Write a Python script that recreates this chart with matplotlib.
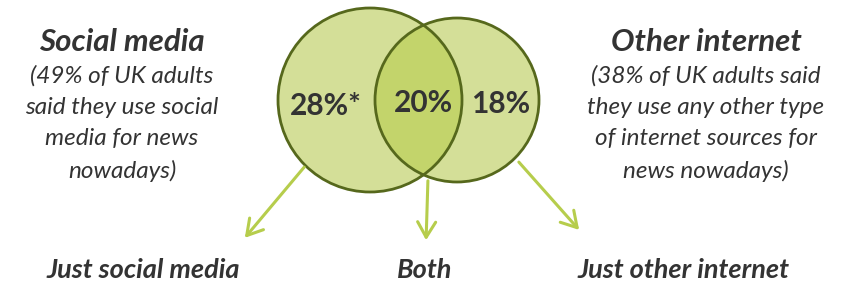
import matplotlib.pyplot as plt
from matplotlib.patches import Circle

# values shown in the diagram
region_labels = ["28%*", "20%", "18%"]
group_names = ["Social media", "Other internet"]
group_notes = ["(49% of UK adults\nsaid they use social\nmedia for news\nnowadays)",
               "(38% of UK adults said\nthey use any other type\nof internet sources for\nnews nowadays)"]
bottom_labels = ["Just social media", "Both", "Just other internet"]

light = "#d4df98"
mid = "#c3d46b"
edge = "#56681c"
arrow_col = "#b6cd4c"
txt = "#333333"
font = "Lato"

fig = plt.figure(figsize=(8.5, 2.86), dpi=100)
ax = fig.add_axes([0, 0, 1, 1])
ax.set_xlim(0, 850)
ax.set_ylim(286, 0)
ax.set_aspect("equal")
ax.axis("off")

# circles
c1 = Circle((370, 100), 92, facecolor=light, edgecolor="none", zorder=1)
c2 = Circle((457, 100), 82, facecolor=light, edgecolor="none", zorder=1)
ax.add_patch(c1)
ax.add_patch(c2)
# overlap region: second circle clipped to first
c2b = Circle((457, 100), 82, facecolor=mid, edgecolor="none", zorder=2)
ax.add_patch(c2b)
c2b.set_clip_path(c1)
ax.add_patch(Circle((370, 100), 92, facecolor="none", edgecolor=edge, lw=2, zorder=3))
ax.add_patch(Circle((457, 100), 82, facecolor="none", edgecolor=edge, lw=2, zorder=3))

# region values
for x, y, s in zip([326, 423, 501], [106, 103, 104], region_labels):
    ax.text(x, y, s, ha="center", va="center", fontsize=21.5, fontweight="bold",
            color=txt, family=font, zorder=4)

# side headings and notes
for x, name, note in zip([122, 706], group_names, group_notes):
    ax.text(x, 42, name, ha="center", va="center", fontsize=22.5, fontweight="bold",
            style="italic", color=txt, family=font)
    ax.text(x, 65, note, ha="center", va="top", fontsize=17.5,
            style="italic", color=txt, family=font, linespacing=1.6)

# arrows
starts = [(306, 165), (428, 178), (517, 160)]
ends = [(243, 240), (426, 243), (581, 232)]
for (x0, y0), (x1, y1) in zip(starts, ends):
    ax.annotate("", xy=(x1, y1), xytext=(x0, y0),
                arrowprops=dict(arrowstyle="->,head_length=1.1,head_width=0.65",
                                color=arrow_col, lw=2.2))

# bottom labels
for x, s in zip([143, 425, 683], bottom_labels):
    ax.text(x, 270, s, ha="center", va="center", fontsize=19.5, fontweight="bold",
            style="italic", color=txt, family=font)

fig.savefig("out.png", dpi=100)
